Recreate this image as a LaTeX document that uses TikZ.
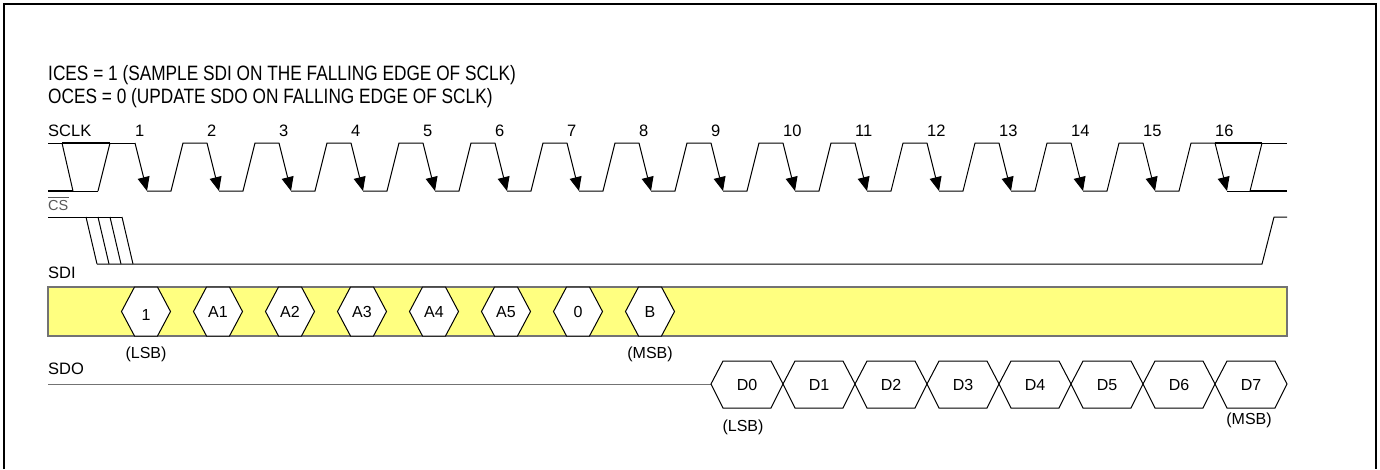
\documentclass[tikz,border=0pt]{standalone}
\usepackage{fontspec}
\setmainfont{Liberation Sans}
\newfontfamily\narrowfont[FakeStretch=0.83]{Liberation Sans}
\usetikzlibrary{arrows.meta}
\definecolor{busbg}{HTML}{FFFF80}
\colorlet{busedge}{black!55}
\tikzset{wave/.style={line width=1pt}}
\tikzset{dontcare/.style={line width=2.2pt}}
\tikzset{fall/.style={
  wave,
  -{Triangle[length=14pt,width=12pt]}
}}
\tikzset{head/.style={
  anchor=base west,
  inner sep=0pt,
  font=\narrowfont\fontsize{20.8}{24}\selectfont
}}
\tikzset{lbl/.style={
  anchor=base west,
  inner sep=0pt,
  font=\fontsize{16.5}{19}\selectfont
}}
\tikzset{bitlbl/.style={
  anchor=base,
  inner sep=0pt,
  font=\fontsize{16}{19}\selectfont
}}

\begin{document}
\begin{tikzpicture}[x=1pt,y=-1pt]
    \useasboundingbox (0,0) rectangle (1380,469);

    % Frame
    \draw[line width=2pt] (4,469) -- (4,4) -- (1376,4) -- (1376,469);

    % Header
    \node[head] (ices) at (48,80) {ICES = 1 (SAMPLE SDI ON THE FALLING EDGE OF SCLK)};
    \node[head] (oces) at (48,103) {OCES = 0 (UPDATE SDO ON FALLING EDGE OF SCLK)};

    % SCLK
    \node[lbl] (sclk) at (48,136) {SCLK};
    \draw[wave] (48,143) -- (135,143);
    \draw[wave] (48,191) -- (98,191);
    \draw[dontcare] (62,143) -- (110,143);
    \draw[dontcare] (48,191) -- (73,191);
    \draw[wave] (62,143) -- (73,191);
    \draw[wave] (110,143) -- (98,191);
    \foreach \k in {1,...,16} {
      \pgfmathsetmacro{\f}{135+72*(\k-1)}
      \node[lbl] (num\k) at (\f,136) {\k};
      \draw[fall] (\f,143) -- (\f+12,191);
    }
    \foreach \k in {1,...,15} {
      \pgfmathsetmacro{\f}{135+72*(\k-1)}
      \draw[wave] (\f+12,191) -- (\f+36,191) -- (\f+48,143) -- (\f+72,143);
    }
    \draw[wave] (1215,143) -- (1287,143);
    \draw[wave] (1227,191) -- (1287,191);
    \draw[dontcare] (1215,143) -- (1262,143);
    \draw[dontcare] (1250,191) -- (1287,191);
    \draw[wave] (1250,191) -- (1262,143);

    % CS
    \node[lbl,black!65,font=\fontsize{14.5}{17}\selectfont] (cs) at (48,210) {CS};
    \draw[black!65,line width=1pt] ([yshift=2pt]cs.north west) -- ([yshift=2pt]cs.north east);
    \draw[wave] (48,217) -- (122,217);
    \foreach \d in {0,12,24,36}
      \draw[wave] (86+\d,217) -- (97+\d,264);
    \draw[wave] (97,264) -- (1262,264) -- (1274,217) -- (1287,217);

    % SDI
    \node[lbl] (sdi) at (48,278) {SDI};
    \fill[busbg] (48,287) rectangle (1287,336);
    \draw[busedge,line width=1.5pt] (48,287) rectangle (1287,336);
    \foreach \t/\dy [count=\i from 0] in {1/3,A1/0,A2/0,A3/0,A4/0,A5/0,0/0,B/0} {
      \pgfmathsetmacro{\c}{146+72*\i}
      \draw[wave,fill=white] (\c-24.5,311.5) -- (\c-11.5,287) -- (\c+11.5,287)
        -- (\c+24.5,311.5) -- (\c+11.5,336) -- (\c-11.5,336) -- cycle;
      \node[bitlbl] (sdi\i) at (\c,317+\dy) {\t};
    }
    \node[bitlbl] (sdilsb) at (146,358) {(LSB)};
    \node[bitlbl] (sdimsb) at (650,358) {(MSB)};

    % SDO
    \node[lbl] (sdo) at (48,374) {SDO};
    \draw[wave,busedge] (48,384) -- (711,384);
    \foreach \i in {0,...,7} {
      \pgfmathsetmacro{\a}{711+72*\i}
      \draw[wave] (\a,384) -- (\a+12,361) -- (\a+60,361) -- (\a+72,384)
        -- (\a+60,408) -- (\a+12,408) -- cycle;
      \node[bitlbl] (sdo\i) at (\a+36,390) {D\i};
    }
    \node[bitlbl] (sdolsb) at (743,431) {(LSB)};
    \node[bitlbl] (sdomsb) at (1249,424) {(MSB)};

  \end{tikzpicture}
\end{document}
